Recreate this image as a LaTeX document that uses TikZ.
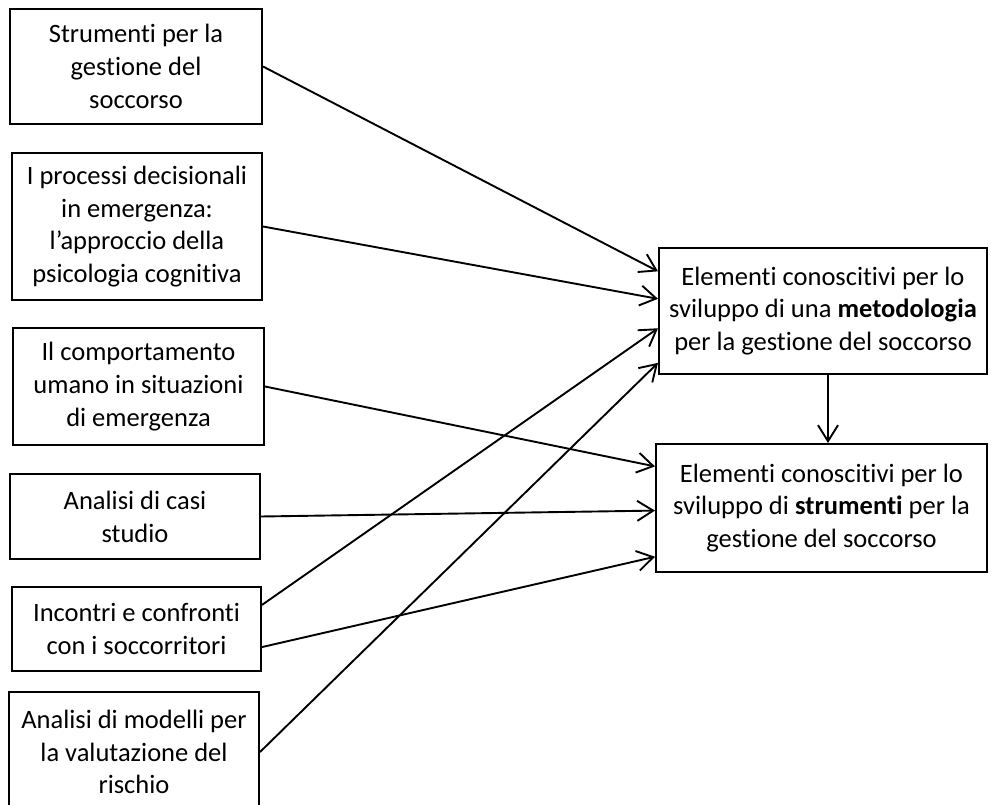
\documentclass[tikz,border=0pt]{standalone}
\usepackage{fontspec}
\setmainfont{Carlito}[Ligatures=NoCommon]
\usetikzlibrary{arrows.meta,calc}

\begin{document}
\begin{tikzpicture}[x=1pt,y=-1pt,
  box/.style={draw, line width=2pt, align=center, inner sep=0pt,
              font=\fontsize{26.5}{32.8}\selectfont},
  link/.style={line width=1.9pt,
               -{Straight Barb[length=16pt,width=20pt,line width=1.9pt]}}]
\useasboundingbox (0,0) rectangle (991,805);
\clip (0,0) rectangle (991,805);

% sources on the left
\node[box, minimum width=252pt, minimum height=115pt] (b1) at (136,66.5)
  {Strumenti per la\\gestione del\\soccorso};
\node[box, minimum width=250pt, minimum height=147pt] (b2) at (137,226.5)
  {I processi decisionali\\in emergenza:\\l’approccio della\\psicologia cognitiva};
\node[box, minimum width=251pt, minimum height=117pt] (b3) at (138.5,386.5)
  {Il comportamento\\umano in situazioni\\di emergenza};
\node[box, minimum width=250pt, minimum height=85pt] (b4) at (135,516.5)
  {Analisi di casi\\studio};
\node[box, minimum width=249pt, minimum height=84pt] (b5) at (136.5,629)
  {Incontri e confronti\\con i soccorritori};
\node[box, minimum width=250pt, minimum height=120pt] (b6) at (134,752)
  {Analisi di modelli per\\la valutazione del\\rischio};

% targets on the right
\node[box, minimum width=328pt, minimum height=126pt] (ta) at (823,311)
  {Elementi conoscitivi per lo\\sviluppo di una \textbf{metodologia}\\per la gestione del soccorso};
\node[box, minimum width=331pt, minimum height=128pt] (tb) at (821.5,508)
  {Elementi conoscitivi per lo\\sviluppo di \textbf{strumenti} per la\\gestione del soccorso};

% links into the methodology box
\draw[link] (b1.east) -- ($(ta.north west)!0.19!(ta.south west)$);
\draw[link] (b2.east) -- ($(ta.north west)!0.405!(ta.south west)$);
\draw[link] ($(b5.north east)!0.22!(b5.south east)$) -- ($(ta.north west)!0.635!(ta.south west)$);
\draw[link] (b6.east) -- ($(ta.north west)!0.905!(ta.south west)$);

% links into the tools box
\draw[link] (b3.east) -- ($(tb.north west)!0.18!(tb.south west)$);
\draw[link] (b4.east) -- ($(tb.north west)!0.52!(tb.south west)$);
\draw[link] ($(b5.north east)!0.71!(b5.south east)$) -- ($(tb.north west)!0.875!(tb.south west)$);

% methodology feeds tools
\coordinate (vx) at (828,0);
\draw[link] (ta.south -| vx) -- (tb.north -| vx);
\end{tikzpicture}
\end{document}
